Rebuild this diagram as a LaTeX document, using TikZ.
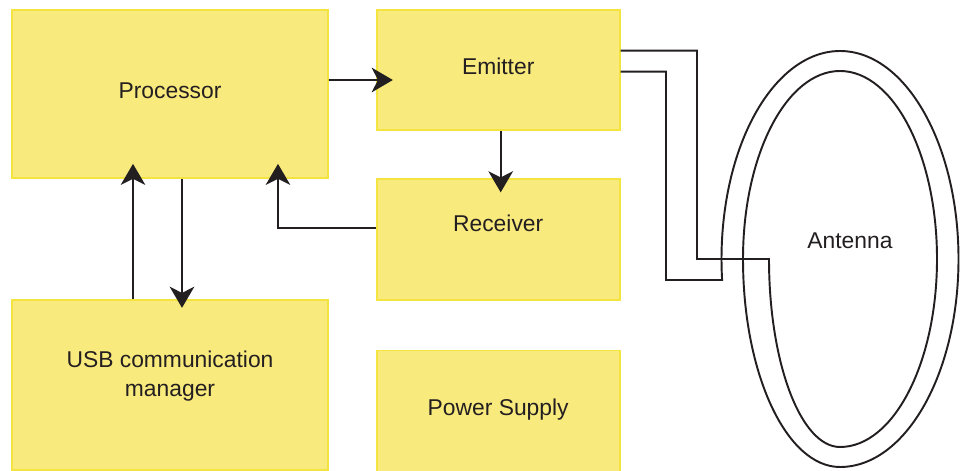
\documentclass[tikz,border=0pt]{standalone}
\usepackage{fontspec}
\setmainfont{Liberation Sans}
\usetikzlibrary{shapes,arrows.meta,positioning}
\definecolor{boxfill}{RGB}{249,234,126}
\definecolor{boxline}{RGB}{243,228,64}
\definecolor{ink}{RGB}{35,31,32}
\tikzstyle{Block} = [draw=boxline, fill=boxfill, line width=1pt, rectangle, minimum width=4.86cm, minimum height=2.42cm, text=ink, text depth=4pt, font=\fontsize{13}{17}\selectfont, align=center]
\tikzstyle{Wide} = [minimum width=6.32cm]
\tikzstyle{Text} = [text=ink, font=\fontsize{13}{17}\selectfont]
\tikzstyle{Link} = [draw=ink, line width=1.1pt, -{Stealth[length=12pt, width=14pt, inset=3.5pt]}]
\tikzstyle{Coil} = [draw=ink, line width=1.1pt]

\begin{document}
\begin{tikzpicture}[x=0.02cm, y=0.02cm]
    \useasboundingbox (0,0) rectangle (960,470);
    \node[Block, Wide, minimum height=3.36cm] (processor) at (170,376) {Processor};
    \node[Block, minimum height=2.4cm]  (emitter)  [right=0.94cm of processor.north east, anchor=north west] {Emitter};
    \node[Block, text depth=18pt]       (receiver) [below=0.94cm of emitter]   {Receiver};
    \node[Block]                        (power)    [below=0.98cm of receiver]  {Power Supply};
    \node[Block, Wide, minimum height=3.4cm, text depth=12.5pt] (usb) [below=2.4cm of processor] {USB communication\\manager};
    \node[Text]                         (antenna)  at (850,229) {Antenna};
    \draw[Link, shorten >=-0.34cm] ([yshift=0.28cm]processor.east) -- ([yshift=-0.2cm]emitter.west);
    \draw[Link, shorten >=-0.3cm]  ([xshift=-0.74cm]usb.north) -- ([xshift=-0.74cm]processor.south);
    \draw[Link, shorten >=-0.18cm] ([xshift=0.24cm]processor.south) -- ([xshift=0.24cm]usb.north);
    \draw[Link, shorten >=-0.3cm]  ([yshift=0.22cm]receiver.west) -| ([xshift=2.16cm]processor.south);
    \draw[Link, shorten >=-0.29cm] ([xshift=0.05cm]emitter.south) -- ([xshift=0.05cm]receiver.north);
    % two turn loop fed from the emitter
    \draw[Coil] ([yshift=0.386cm]emitter.east) -| (697,211) -- (769,211)
        arc[start angle=180, end angle=270, x radius=71, y radius=188]
        arc[start angle=270, end angle=540, x radius=97, y radius=188]
        arc[start angle=180, end angle=270, x radius=97, y radius=208]
        arc[start angle=270, end angle=545.8, x radius=118.5, y radius=208]
        -- (666,190) |- ([yshift=-0.034cm]emitter.east);
\end{tikzpicture}
\end{document}
